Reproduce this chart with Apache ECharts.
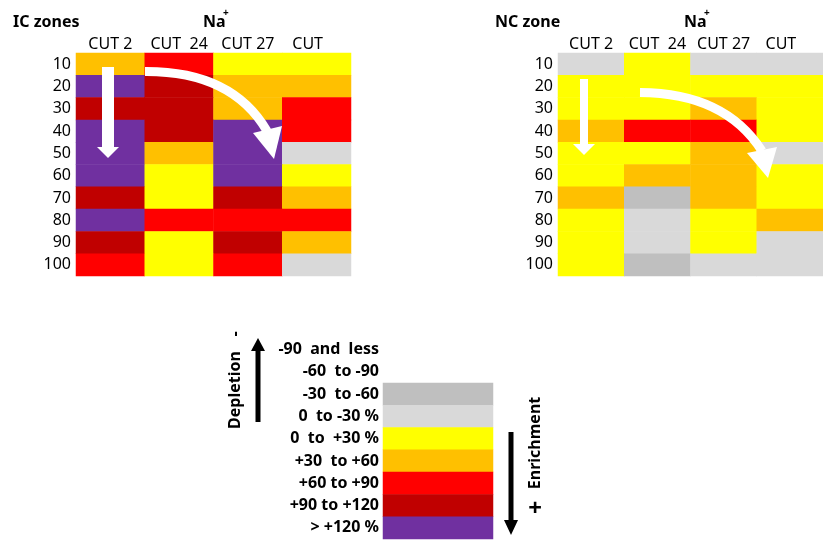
<!DOCTYPE html>
<html>
<head>
<meta charset="utf-8">
<script src="https://cdn.jsdelivr.net/npm/echarts@6/dist/echarts.min.js"></script>
<style>
  html, body { margin: 0; padding: 0; background: #fff; }
  #chart { width: 823px; height: 541px; }
</style>
</head>
<body>
<div id="chart"></div>
<script>
// columns and depth rows
var cuts = ['CUT 2', 'CUT  24', 'CUT 27', 'CUT'];
var depths = ['10', '20', '30', '40', '50', '60', '70', '80', '90', '100'];

// change classes (index = class used in the zone tables)
var classLabels = ['-90  and  less', '-60  to -90', '-30  to -60', '0  to -30 %', '0  to  +30 %',
                   '+30  to +60', '+60 to +90', '+90 to +120', '> +120 %'];
var classColors = ['#808080', '#a6a6a6', '#bfbfbf', '#d9d9d9', '#ffff00',
                   '#ffc000', '#ff0000', '#c00000', '#7030a0'];
// classes that have a box in the key
var keyClasses = [2, 3, 4, 5, 6, 7, 8];

// class per depth row, columns in order of cuts
var icZone = [
  [5, 6, 4, 4],
  [8, 7, 5, 5],
  [7, 7, 5, 6],
  [8, 7, 8, 6],
  [8, 5, 8, 3],
  [8, 4, 8, 4],
  [7, 4, 7, 5],
  [8, 6, 6, 6],
  [7, 4, 7, 5],
  [6, 4, 6, 3]
];
var ncZone = [
  [3, 4, 3, 3],
  [4, 4, 4, 4],
  [4, 4, 5, 4],
  [5, 6, 6, 4],
  [4, 4, 5, 3],
  [4, 5, 5, 4],
  [5, 2, 5, 4],
  [4, 3, 4, 5],
  [4, 3, 4, 3],
  [4, 2, 3, 3]
];

function toCells(table) {
  var out = [];
  for (var r = 0; r < table.length; r++) {
    for (var c = 0; c < table[r].length; c++) {
      out.push([c, r, table[r][c]]);
    }
  }
  return out;
}

var font = '"Noto Sans", "DejaVu Sans", sans-serif';
var colLabel = {
  fontFamily: font, fontSize: 16, color: '#000', margin: 1, interval: 0,
  formatter: function (v) { return v === 'CUT' ? '{s|' + v + '}' : v; },
  rich: { s: { fontFamily: font, fontSize: 16, color: '#000', padding: [0, 18, 0, 0] } }
};
var rowLabel = { fontFamily: font, fontSize: 16, color: '#000', margin: 5, interval: 0, padding: [3, 0, 0, 0] };

function catX(gi) {
  return { type: 'category', gridIndex: gi, data: cuts, position: 'top',
    axisLine: { show: false }, axisTick: { show: false }, splitLine: { show: false },
    axisLabel: colLabel };
}
function catY(gi) {
  return { type: 'category', gridIndex: gi, data: depths, inverse: true,
    axisLine: { show: false }, axisTick: { show: false }, splitLine: { show: false },
    axisLabel: rowLabel };
}

// white trend arrows and black key arrows
function whiteArrowCurve(x1, y1, cx, cy, x2, y2, w) {
  return { type: 'bezierCurve', z: 10, silent: true,
    shape: { x1: x1, y1: y1, x2: x2, y2: y2, cpx1: cx, cpy1: cy },
    style: { stroke: '#fff', lineWidth: w, fill: null } };
}
function poly(pts, col) {
  return { type: 'polygon', z: 10, silent: true, shape: { points: pts }, style: { fill: col } };
}
function rect(x, y, w, h, col) {
  return { type: 'rect', z: 10, silent: true, shape: { x: x, y: y, width: w, height: h }, style: { fill: col } };
}
function txt(s, x, y, size, bold, rot, align) {
  return { type: 'text', z: 10, silent: true, x: x, y: y, rotation: rot || 0,
    style: { text: s, x: 0, y: 0, fill: '#000', textAlign: align || 'left', textVerticalAlign: 'middle',
      font: (bold ? 'bold ' : '') + size + 'px ' + font } };
}

var option = {
  animation: false,
  backgroundColor: '#fff',
  grid: [
    { left: 76, top: 53, width: 275, height: 223 },
    { left: 558, top: 53, width: 276, height: 223 },
    { left: 383, top: 338.3, width: 110, height: 200.7 }
  ],
  xAxis: [catX(0), catX(1),
    { type: 'category', gridIndex: 2, data: ['key'], show: false }],
  yAxis: [catY(0), catY(1),
    { type: 'category', gridIndex: 2, data: classLabels, inverse: true,
      axisLine: { show: false }, axisTick: { show: false }, splitLine: { show: false },
      axisLabel: { fontFamily: font, fontSize: 16, fontWeight: 'bold', color: '#000', margin: 4, interval: 0,
        padding: [3, 0, 0, 0] } }],
  visualMap: {
    type: 'piecewise', show: false, dimension: 2, seriesIndex: [0, 1, 2],
    pieces: classColors.map(function (c, i) { return { value: i, color: c }; })
  },
  series: [
    { type: 'heatmap', xAxisIndex: 0, yAxisIndex: 0, data: toCells(icZone), emphasis: { disabled: true } },
    { type: 'heatmap', xAxisIndex: 1, yAxisIndex: 1, data: toCells(ncZone), emphasis: { disabled: true } },
    { type: 'heatmap', xAxisIndex: 2, yAxisIndex: 2,
      data: keyClasses.map(function (k) { return [0, k, k]; }), emphasis: { disabled: true } }
  ],
  graphic: [
    txt('IC zones', 13, 22, 16, true),
    txt('Na', 203, 22, 16, true),
    txt('+', 223, 13, 10, true),
    txt('NC zone', 495, 22, 16, true),
    txt('Na', 684, 22, 16, true),
    txt('+', 704, 13, 10, true),
    // left panel arrows
    rect(102, 67, 12, 81, '#fff'),
    poly([[97, 147], [119, 147], [108, 158]], '#fff'),
    whiteArrowCurve(145, 71.5, 232, 71, 267, 131, 9),
    poly([[253, 133], [282, 126], [274, 159]], '#fff'),
    // right panel arrows
    rect(580, 79, 8, 66, '#fff'),
    poly([[573, 144], [595, 144], [584, 155]], '#fff'),
    whiteArrowCurve(640, 92.5, 725, 93, 762, 151, 9),
    poly([[747, 153], [777, 147], [768, 178]], '#fff'),
    // key arrows and captions
    rect(255.5, 350, 5, 72, '#000'),
    poly([[251, 351], [265, 351], [258, 338]], '#000'),
    txt('Depletion', 235, 390, 16, true, Math.PI / 2, 'center'),
    txt('-', 235, 334, 16, true, Math.PI / 2, 'center'),
    rect(508.5, 432, 5, 89, '#000'),
    poly([[504, 520], [518, 520], [511, 535]], '#000'),
    txt('Enrichment', 535, 443, 16, true, Math.PI / 2, 'center'),
    txt('+', 535, 509, 24, true, 0, 'center')
  ]
};

var chart = echarts.init(document.getElementById('chart'), null, { renderer: 'canvas' });
chart.setOption(option);
</script>
</body>
</html>
